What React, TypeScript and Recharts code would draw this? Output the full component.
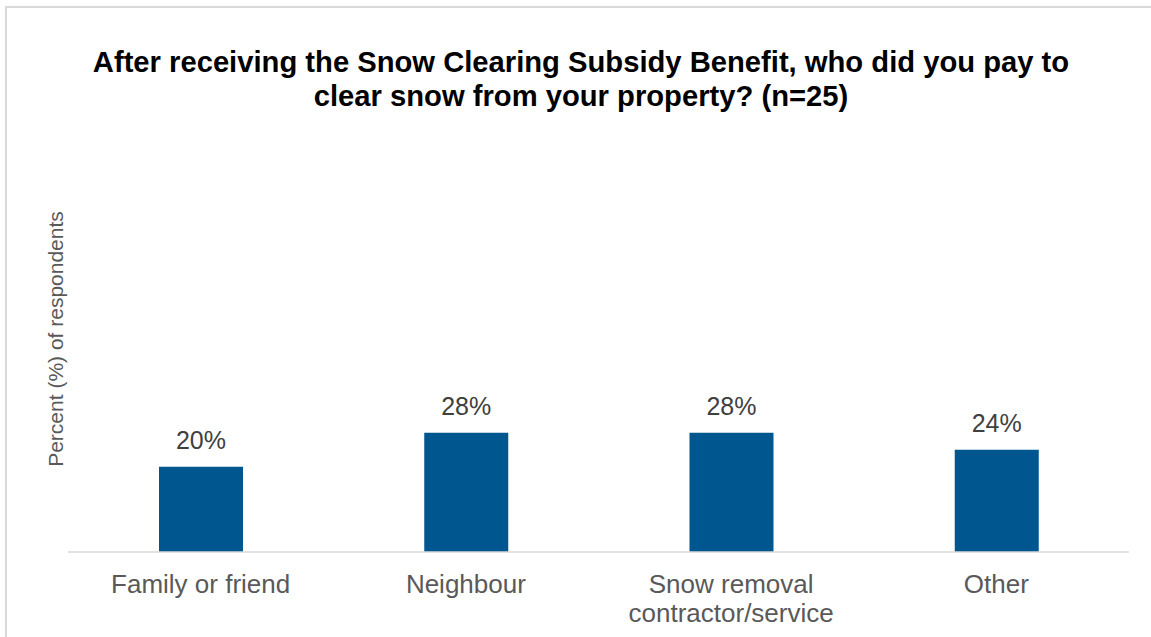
import React from "react";
import { BarChart, Bar, XAxis, YAxis, LabelList, Label } from "recharts";

const categories = ["Family or friend", "Neighbour", "Snow removal\ncontractor/service", "Other"];
const percents = [20, 28, 28, 24];
const titleLines = [
  "After receiving the Snow Clearing Subsidy Benefit, who did you pay to",
  "clear snow from your property? (n=25)",
];
const yAxisTitle = "Percent (%) of respondents";

const data = categories.map((c, i) => ({ category: c, value: percents[i] }));

const FONT = '"Liberation Sans", Arial, sans-serif';

const Tick = (props: any) => {
  const { x, y, payload } = props;
  const lines = String(payload.value).split("\n");
  return (
    <text x={x} y={y + 41} textAnchor="middle" fill="#595959" fontSize={26} fontFamily={FONT}>
      {lines.map((l, i) => (
        <tspan key={i} x={x} dy={i === 0 ? 0 : 29}>
          {l}
        </tspan>
      ))}
    </text>
  );
};

const YTitle = (props: any) => {
  const vb = props.viewBox || {};
  const cy = (vb.y ?? 126) + (vb.height ?? 426) / 2;
  const cx = 63;
  return (
    <text
      x={cx}
      y={cy}
      transform={`rotate(-90, ${cx}, ${cy})`}
      textAnchor="middle"
      fill="#595959"
      fontSize={21}
      fontFamily={FONT}
    >
      {yAxisTitle}
    </text>
  );
};

export default function App() {
  return (
    <div style={{ position: "fixed", left: 0, top: 0, width: 1151, height: 637, overflow: "hidden", background: "#fff" }}>
      <div
        style={{
          position: "absolute",
          left: 0,
          top: 45,
          width: 1162,
          textAlign: "center",
          fontFamily: FONT,
          fontWeight: "bold",
          fontSize: 29.2,
          lineHeight: "34px",
          color: "#000",
        }}
      >
        {titleLines[0]}
        <br />
        {titleLines[1]}
      </div>
      <div style={{ position: "absolute", left: 0, top: 0 }}>
        <BarChart
          width={1151}
          height={637}
          data={data}
          margin={{ top: 126, right: 22, bottom: 5, left: 0 }}
          barCategoryGap={0}
        >
          <YAxis
            domain={[0, 100]}
            width={68}
            tick={false}
            axisLine={false}
            tickLine={false}
          >
            <Label content={<YTitle />} />
          </YAxis>
          <XAxis
            dataKey="category"
            height={80}
            tickLine={false}
            tickSize={0}
            tickMargin={0}
            axisLine={{ stroke: "#d9d9d9", strokeWidth: 1.5 }}
            tick={<Tick />}
            interval={0}
          />
          <Bar dataKey="value" fill="#00568f" barSize={84} isAnimationActive={false}>
            <LabelList
              dataKey="value"
              position="top"
              offset={18}
              formatter={(v: any) => `${v}%`}
              fill="#404040"
              fontSize={25}
              fontFamily={FONT}
            />
          </Bar>
        </BarChart>
      </div>
      <div
        style={{
          position: "absolute",
          left: 5,
          top: 6,
          width: 1160,
          height: 650,
          border: "2px solid #d9d9d9",
          boxSizing: "border-box",
          zIndex: 5,
          pointerEvents: "none",
        }}
      />
    </div>
  );
}
